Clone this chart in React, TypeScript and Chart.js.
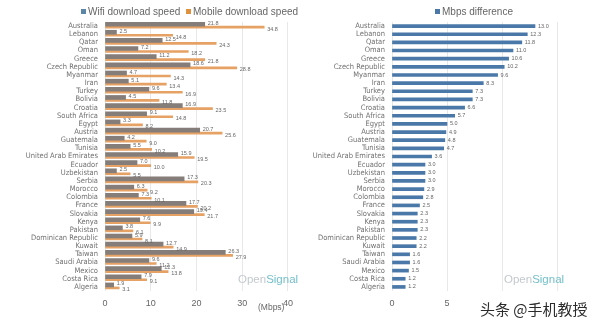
import React, { useEffect, useRef } from "react";
import { Chart, registerables } from "chart.js";

Chart.register(...registerables);

const countries = [
  "Australia", "Lebanon", "Qatar", "Oman", "Greece", "Czech Republic", "Myanmar", "Iran",
  "Turkey", "Bolivia", "Croatia", "South Africa", "Egypt", "Austria", "Guatemala", "Tunisia",
  "United Arab Emirates", "Ecuador", "Uzbekistan", "Serbia", "Morocco", "Colombia", "France",
  "Slovakia", "Kenya", "Pakistan", "Dominican Republic", "Kuwait", "Taiwan", "Saudi Arabia",
  "Mexico", "Costa Rica", "Algeria",
];
const wifiSpeed = [
  21.8, 2.5, 12.5, 7.2, 11.2, 18.6, 4.7, 5.1, 9.6, 4.5, 16.9, 9.1, 3.3, 20.7, 4.2, 5.5,
  15.9, 7.0, 2.5, 17.3, 6.3, 7.3, 17.7, 19.4, 7.6, 3.8, 5.9, 12.7, 26.3, 9.6, 12.3, 7.9, 1.9,
];
const mobileSpeed = [
  34.8, 14.8, 24.3, 18.2, 21.8, 28.8, 14.3, 13.4, 16.9, 11.8, 23.5, 14.8, 8.2, 25.6, 9.0, 10.2,
  19.5, 10.0, 5.5, 20.3, 9.2, 10.1, 20.2, 21.7, 9.9, 6.1, 8.1, 14.9, 27.9, 11.2, 13.8, 9.1, 3.1,
];
const mbpsDifference = [
  13.0, 12.3, 11.8, 11.0, 10.6, 10.2, 9.6, 8.3, 7.3, 7.3, 6.6, 5.7, 5.0, 4.9, 4.8, 4.7,
  3.6, 3.0, 3.0, 3.0, 2.9, 2.8, 2.5, 2.3, 2.3, 2.3, 2.2, 2.2, 1.6, 1.6, 1.5, 1.2, 1.2,
];
const leftAxisMax = 40;
const leftAxisStep = 10;
const rightAxisMax = 15;
const rightAxisStep = 5;

const SANS = '"Liberation Sans", Arial, sans-serif';
const NARROW = '"Liberation Sans Narrow", "DejaVu Sans Condensed", "Liberation Sans", sans-serif';

const WIFI_COLOR = "#857d79";
const WIFI_LEGEND = "#5b86a8";
const MOBILE_COLOR = "#e6a164";
const MOBILE_LEGEND = "#e0913e";
const DIFF_COLOR = "#4a78a8";

type LegendItem = { text: string; color: string; x: number };

function makeDecor(
  legend: LegendItem[],
  logoX: number,
  extras?: (ctx: CanvasRenderingContext2D) => void
) {
  return {
    id: "decor",
    afterDatasetsDraw(chart: any) {
      const ctx: CanvasRenderingContext2D = chart.ctx;
      ctx.save();
      chart.data.datasets.forEach((ds: any, di: number) => {
        const meta = chart.getDatasetMeta(di);
        ctx.font = `5.5px ${SANS}`;
        ctx.fillStyle = "#666";
        ctx.textAlign = "left";
        ctx.textBaseline = "middle";
        meta.data.forEach((el: any, i: number) => {
          const off = ds.labelOffsetY || 0;
          ctx.fillText(Number(ds.data[i]).toFixed(1), el.x + 3, el.y + off);
        });
      });
      ctx.restore();
    },
    afterDraw(chart: any) {
      const ctx: CanvasRenderingContext2D = chart.ctx;
      ctx.save();
      ctx.textBaseline = "middle";
      ctx.textAlign = "left";
      ctx.font = `10px ${SANS}`;
      legend.forEach((it) => {
        ctx.fillStyle = it.color;
        ctx.fillRect(it.x, 9, 5, 5);
        ctx.fillStyle = "#666666";
        ctx.fillText(it.text, it.x + 7, 12);
      });
      if (extras) extras(ctx);
      ctx.font = `11.5px ${SANS}`;
      ctx.fillStyle = "#c3c9cc";
      ctx.fillText("Open", logoX, 280);
      const w = ctx.measureText("Open").width;
      ctx.fillStyle = "#74c0cb";
      ctx.fillText("Signal", logoX + w, 280);
      ctx.restore();
    },
  };
}

function LeftChart() {
  const ref = useRef<HTMLCanvasElement>(null);
  useEffect(() => {
    const chart = new Chart(ref.current as HTMLCanvasElement, {
      type: "bar",
      data: {
        labels: countries,
        datasets: [
          {
            label: "Wifi download speed",
            data: wifiSpeed,
            backgroundColor: WIFI_COLOR,
            barThickness: 4,
            labelOffsetY: -1,
          } as any,
          {
            label: "Mobile download speed",
            data: mobileSpeed,
            backgroundColor: MOBILE_COLOR,
            barThickness: 2,
            labelOffsetY: 2,
          } as any,
        ],
      },
      options: {
        indexAxis: "y",
        responsive: false,
        animation: false,
        devicePixelRatio: 1,
        layout: { padding: { top: 22, right: 7, left: 0, bottom: 0 } },
        plugins: { legend: { display: false }, tooltip: { enabled: false } },
        scales: {
          x: {
            min: 0,
            max: leftAxisMax,
            ticks: { stepSize: leftAxisStep, padding: 7, color: "#666", font: { size: 9, family: SANS } },
            grid: { color: "#e8e8e8", drawTicks: false },
            border: { display: false },
            afterFit: (s: any) => { s.height = 35; },
          },
          y: {
            ticks: { autoSkip: false, padding: 7, color: "#707070", font: { size: 7.5, family: NARROW } },
            grid: { display: false, drawTicks: false },
            border: { display: false },
            afterFit: (s: any) => { s.width = 105; },
          },
        },
      } as any,
      plugins: [
        makeDecor(
          [
            { text: "Wifi download speed", color: WIFI_LEGEND, x: 81 },
            { text: "Mobile download speed", color: MOBILE_LEGEND, x: 186 },
          ],
          238,
          (ctx) => {
            ctx.font = `8.5px ${SANS}`;
            ctx.fillStyle = "#666";
            ctx.fillText("(Mbps)", 258, 308);
          }
        ),
      ],
    });
    return () => chart.destroy();
  }, []);
  return <canvas ref={ref} width={300} height={326} style={{ display: "block", width: 300, height: 326 }} />;
}

function RightChart() {
  const ref = useRef<HTMLCanvasElement>(null);
  useEffect(() => {
    const chart = new Chart(ref.current as HTMLCanvasElement, {
      type: "bar",
      data: {
        labels: countries,
        datasets: [
          {
            label: "Mbps difference",
            data: mbpsDifference,
            backgroundColor: DIFF_COLOR,
            barThickness: 3,
          } as any,
        ],
      },
      options: {
        indexAxis: "y",
        responsive: false,
        animation: false,
        devicePixelRatio: 1,
        layout: { padding: { top: 22, right: 43, left: 0, bottom: 0 } },
        plugins: { legend: { display: false }, tooltip: { enabled: false } },
        scales: {
          x: {
            min: 0,
            max: rightAxisMax,
            ticks: { stepSize: rightAxisStep, padding: 7, color: "#666", font: { size: 9, family: SANS } },
            grid: { color: "#e8e8e8", drawTicks: false },
            border: { display: false },
            afterFit: (s: any) => { s.height = 35; },
          },
          y: {
            ticks: { autoSkip: false, padding: 7, color: "#707070", font: { size: 7.5, family: NARROW } },
            grid: { display: false, drawTicks: false },
            border: { display: false },
            afterFit: (s: any) => { s.width = 92; },
          },
        },
      } as any,
      plugins: [
        makeDecor(
          [{ text: "Mbps difference", color: DIFF_COLOR, x: 135 }],
          204,
          (ctx) => {
            ctx.fillStyle = "#ffffff";
            ctx.fillRect(172, 294, 128, 30);
            ctx.font = `15px "Noto Sans CJK SC", sans-serif`;
            ctx.fillStyle = "#2b2b2b";
            ctx.fillText("头条 @手机教授", 180, 309);
          }
        ),
      ],
    });
    return () => chart.destroy();
  }, []);
  return <canvas ref={ref} width={300} height={326} style={{ display: "block", width: 300, height: 326 }} />;
}

export default function App() {
  return (
    <div
      style={{
        position: "absolute",
        left: 0,
        top: 0,
        width: 600,
        height: 326,
        background: "#ffffff",
        display: "flex",
        overflow: "hidden",
      }}
    >
      <LeftChart />
      <RightChart />
    </div>
  );
}
